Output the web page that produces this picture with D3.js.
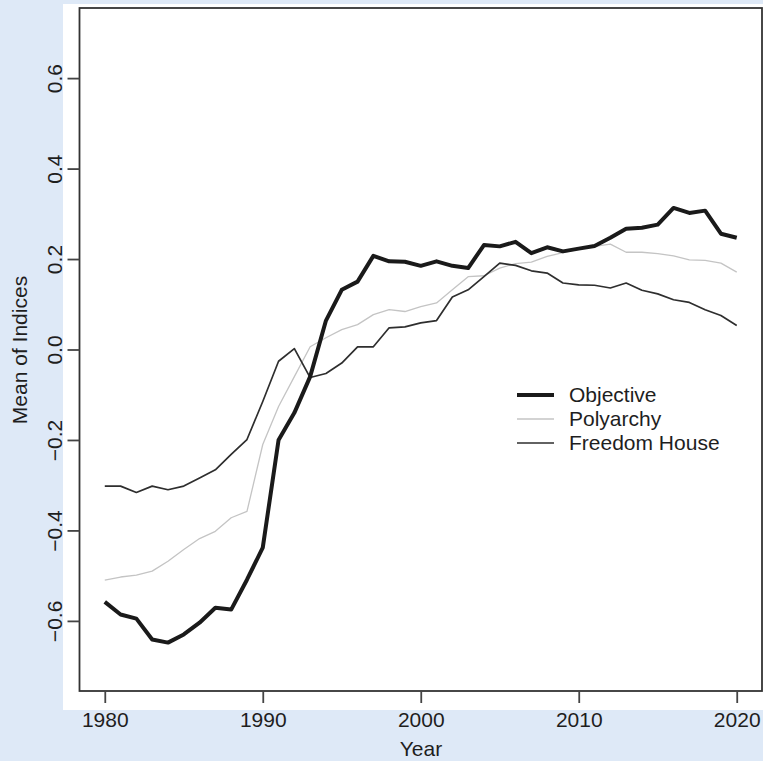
<!DOCTYPE html>
<html>
<head>
<meta charset="utf-8">
<script src="https://cdn.jsdelivr.net/npm/d3@7"></script>
<style>
  html, body { margin: 0; padding: 0; background: #dee9f7; }
  svg { display: block; }
  text { font-family: "Liberation Sans", Arial, Helvetica, sans-serif; fill: #1e1e1e; }
</style>
</head>
<body>
<svg id="chart" width="763" height="761"></svg>
<script>
const years = d3.range(1980, 2021);
const objective = [-0.558, -0.586, -0.595, -0.641, -0.648, -0.630, -0.604, -0.571, -0.575, -0.509,
  -0.438, -0.200, -0.140, -0.060, 0.064, 0.132, 0.150, 0.207, 0.195, 0.194,
  0.185, 0.195, 0.185, 0.180, 0.231, 0.228, 0.238, 0.213, 0.226, 0.217,
  0.223, 0.229, 0.247, 0.267, 0.269, 0.276, 0.313, 0.302, 0.307, 0.256, 0.247];
const polyarchy = [-0.510, -0.503, -0.499, -0.490, -0.468, -0.442, -0.418, -0.402, -0.372, -0.358,
  -0.210, -0.126, -0.060, 0.006, 0.026, 0.044, 0.055, 0.077, 0.088, 0.084,
  0.095, 0.103, 0.132, 0.161, 0.163, 0.180, 0.190, 0.193, 0.206, 0.214,
  0.222, 0.228, 0.233, 0.215, 0.215, 0.212, 0.207, 0.198, 0.197, 0.191, 0.171];
const freedomHouse = [-0.302, -0.302, -0.316, -0.302, -0.310, -0.302, -0.284, -0.266, -0.232, -0.199,
  -0.115, -0.026, 0.002, -0.062, -0.053, -0.030, 0.006, 0.006, 0.048, 0.050,
  0.059, 0.064, 0.116, 0.132, 0.161, 0.191, 0.186, 0.174, 0.169, 0.147,
  0.143, 0.142, 0.136, 0.147, 0.131, 0.123, 0.110, 0.104, 0.088, 0.075, 0.053];
const xTicks = [1980, 1990, 2000, 2010, 2020];
const yTicks = [-0.6, -0.4, -0.2, 0.0, 0.2, 0.4, 0.6];
const yTickLabels = ["\u22120.6", "\u22120.4", "\u22120.2", "0.0", "0.2", "0.4", "0.6"];
const seriesNames = ["Objective", "Polyarchy", "Freedom House"];

const FS = 21;
const svg = d3.select("#chart");
// white panel
svg.append("rect").attr("x", 63).attr("y", 4).attr("width", 700).attr("height", 706).attr("fill", "#ffffff");

const pLeft = 79.5, pRight = 762, pTop = 8, pBottom = 691;
const x = d3.scaleLinear().domain([1978.4, 2021.6]).range([pLeft, pRight]);
const y = d3.scaleLinear().domain([-0.755, 0.755]).range([pBottom, pTop]);

// frame
svg.append("rect").attr("x", pLeft).attr("y", pTop).attr("width", pRight - pLeft).attr("height", pBottom - pTop)
  .attr("fill", "none").attr("stroke", "#333").attr("stroke-width", 1.8);

// axes
const xAxis = d3.axisBottom(x).tickValues(xTicks).tickSize(12).tickFormat(d3.format("d"));
const gx = svg.append("g").attr("transform", `translate(0,${pBottom})`).call(xAxis);
gx.select(".domain").remove();
gx.selectAll(".tick line").attr("stroke", "#444").attr("stroke-width", 1.8);
gx.selectAll(".tick text").attr("font-size", FS).attr("dy", null).attr("y", 36)
  .style("font-family", '"Liberation Sans", Arial, sans-serif').attr("fill", "#1e1e1e");

const yAxis = d3.axisLeft(y).tickValues(yTicks).tickSize(12).tickFormat((d, i) => yTickLabels[i]);
const gy = svg.append("g").attr("transform", `translate(${pLeft},0)`).call(yAxis);
gy.select(".domain").remove();
gy.selectAll(".tick line").attr("stroke", "#444").attr("stroke-width", 1.8);
gy.selectAll(".tick text").attr("font-size", FS).attr("x", null).attr("dy", null)
  .attr("transform", "translate(-18,0) rotate(-90)").attr("text-anchor", "middle").attr("y", 0)
  .style("font-family", '"Liberation Sans", Arial, sans-serif').attr("fill", "#1e1e1e");

// axis titles
svg.append("text").attr("x", 421).attr("y", 756).attr("text-anchor", "middle").attr("font-size", FS).text("Year");
svg.append("text").attr("transform", "translate(27,350) rotate(-90)").attr("text-anchor", "middle")
  .attr("font-size", FS).text("Mean of Indices");

// lines
const line = d3.line().x((d, i) => x(years[i])).y(d => y(d));
svg.append("clipPath").attr("id", "clip").append("rect")
  .attr("x", pLeft).attr("y", pTop).attr("width", pRight - pLeft).attr("height", pBottom - pTop);
const styles = [
  { data: polyarchy, color: "#c4c4c4", width: 1.3 },
  { data: freedomHouse, color: "#2e2e2e", width: 1.7 },
  { data: objective, color: "#1a1a1a", width: 4 }
];
styles.forEach(s => {
  svg.append("path").datum(s.data).attr("d", line).attr("fill", "none")
    .attr("stroke", s.color).attr("stroke-width", s.width).attr("stroke-linejoin", "round")
    .attr("clip-path", "url(#clip)");
});

// legend
const legStyles = [
  { color: "#1a1a1a", width: 4 },
  { color: "#c4c4c4", width: 1.3 },
  { color: "#2e2e2e", width: 1.7 }
];
const leg = svg.append("g");
seriesNames.forEach((name, i) => {
  const ly = 395 + i * 24;
  leg.append("line").attr("x1", 517).attr("x2", 554).attr("y1", ly).attr("y2", ly)
    .attr("stroke", legStyles[i].color).attr("stroke-width", legStyles[i].width);
  leg.append("text").attr("x", 569).attr("y", ly + 7).attr("font-size", FS).text(name);
});
</script>
</body>
</html>
